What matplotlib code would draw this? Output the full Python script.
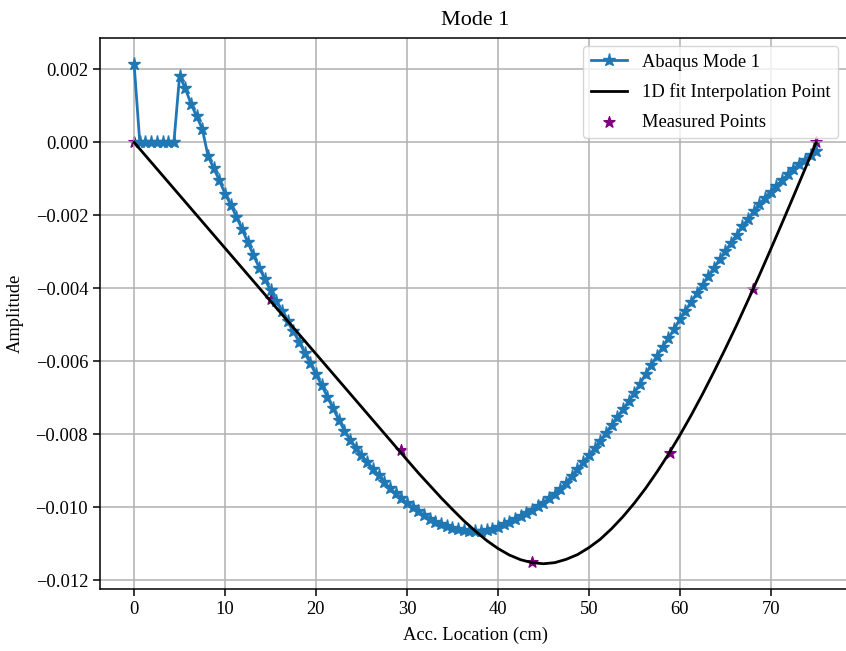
import matplotlib
matplotlib.use("Agg")
import matplotlib.pyplot as plt

plt.rcParams['font.family'] = ['Liberation Serif', 'DejaVu Serif']
plt.rcParams['font.size'] = 13.3
plt.rcParams['axes.unicode_minus'] = True

# Abaqus Mode 1 (node positions along beam, cm) and amplitude
abaqus_x = [0.0, 0.625, 1.25, 1.875, 2.5, 3.125, 3.75, 4.375, 5.0, 5.625,
            6.25, 6.875, 7.5, 8.125, 8.75, 9.375, 10.0, 10.625, 11.25, 11.875,
            12.5, 13.125, 13.75, 14.375, 15.0, 15.625, 16.25, 16.875, 17.5, 18.125,
            18.75, 19.375, 20.0, 20.625, 21.25, 21.875, 22.5, 23.125, 23.75, 24.375,
            25.0, 25.625, 26.25, 26.875, 27.5, 28.125, 28.75, 29.375, 30.0, 30.625,
            31.25, 31.875, 32.5, 33.125, 33.75, 34.375, 35.0, 35.625, 36.25, 36.875,
            37.5, 38.125, 38.75, 39.375, 40.0, 40.625, 41.25, 41.875, 42.5, 43.125,
            43.75, 44.375, 45.0, 45.625, 46.25, 46.875, 47.5, 48.125, 48.75, 49.375,
            50.0, 50.625, 51.25, 51.875, 52.5, 53.125, 53.75, 54.375, 55.0, 55.625,
            56.25, 56.875, 57.5, 58.125, 58.75, 59.375, 60.0, 60.625, 61.25, 61.875,
            62.5, 63.125, 63.75, 64.375, 65.0, 65.625, 66.25, 66.875, 67.5, 68.125,
            68.75, 69.375, 70.0, 70.625, 71.25, 71.875, 72.5, 73.125, 73.75, 74.375,
            75.0]
abaqus_y = [0.00215, 0.0, 0.0, 0.0, 0.0, 0.0, 0.0, 0.0, 0.00182, 0.00148,
            0.00106, 0.00071, 0.00037, -0.00037, -0.00071, -0.00104, -0.00141, -0.00171, -0.00204, -0.00238,
            -0.00274, -0.00309, -0.00343, -0.00375, -0.00406, -0.00435, -0.00463, -0.00491, -0.00518, -0.00546,
            -0.00576, -0.00606, -0.00636, -0.00666, -0.00697, -0.00729, -0.00760, -0.00790, -0.00815, -0.00837,
            -0.00858, -0.00876, -0.00894, -0.00912, -0.00930, -0.00948, -0.00962, -0.00976, -0.00988, -0.01000,
            -0.01011, -0.01022, -0.01031, -0.01040, -0.01046, -0.01052, -0.01057, -0.01060, -0.01063, -0.01066,
            -0.01066, -0.01066, -0.01063, -0.01059, -0.01054, -0.01047, -0.01040, -0.01033, -0.01025, -0.01016,
            -0.01007, -0.00998, -0.00988, -0.00976, -0.00963, -0.00950, -0.00933, -0.00914, -0.00896, -0.00877,
            -0.00858, -0.00839, -0.00818, -0.00797, -0.00775, -0.00753, -0.00732, -0.00710, -0.00687, -0.00661,
            -0.00635, -0.00610, -0.00585, -0.00560, -0.00537, -0.00512, -0.00485, -0.00461, -0.00437, -0.00413,
            -0.00390, -0.00367, -0.00344, -0.00321, -0.00298, -0.00276, -0.00253, -0.00230, -0.00210, -0.00189,
            -0.00170, -0.00152, -0.00135, -0.00119, -0.00104, -0.00088, -0.00074, -0.00059, -0.00047, -0.00036,
            -0.00025]

# 1D fit interpolation curve
fit_x = [0.0, 2.5, 5.0, 7.5, 10.0, 12.5, 15.0, 17.5, 20.0, 22.5,
         25.0, 27.5, 30.0, 31.25, 32.5, 33.75, 35.0, 36.25, 37.5, 38.75,
         40.0, 41.25, 42.5, 43.75, 45.0, 46.25, 47.5, 48.75, 50.0, 51.25,
         52.5, 53.75, 55.0, 56.25, 57.5, 58.75, 60.0, 61.25, 62.5, 63.75,
         65.0, 66.25, 67.5, 68.75, 70.0, 71.25, 72.5, 73.75, 75.0]
fit_y = [0.0, -0.000725, -0.00145, -0.002175, -0.0029, -0.003625, -0.00435, -0.005075, -0.0058, -0.006525,
         -0.00725, -0.007975, -0.0087, -0.00906, -0.0094, -0.00974, -0.01006, -0.01037, -0.01065, -0.01091,
         -0.01113, -0.01131, -0.01144, -0.01152, -0.01155, -0.01152, -0.01143, -0.01130, -0.01111, -0.01088,
         -0.01059, -0.01026, -0.00989, -0.00948, -0.00903, -0.00855, -0.00803, -0.00748, -0.00690, -0.00629,
         -0.00566, -0.00501, -0.00433, -0.00364, -0.00293, -0.00221, -0.00148, -0.00074, 0.0]

# Measured points
meas_x = [0.0, 15.0, 29.3, 43.75, 58.9, 68.0, 75.0]
meas_y = [0.0, -0.00430, -0.00844, -0.01150, -0.00851, -0.00401, 0.0]

fig = plt.figure(figsize=(8.46, 6.51), dpi=100)
ax = fig.add_axes([0.1182, 0.0948, 0.8869, 0.8468])

ax.plot(abaqus_x, abaqus_y, marker='*', color='#1f77b4', lw=2.0, ms=9.5,
        label='Abaqus Mode 1')
ax.plot(fit_x, fit_y, color='black', lw=2.0, label='1D fit Interpolation Point')
ax.scatter(meas_x, meas_y, marker='*', color='purple', s=70, label='Measured Points')

ax.set_xlim(-3.75, 78.75)
ax.set_ylim(-0.01225, 0.00286)
ax.set_xticks([0, 10, 20, 30, 40, 50, 60, 70])
ax.set_yticks([0.002, 0.0, -0.002, -0.004, -0.006, -0.008, -0.010, -0.012])
ax.grid(True, color='#b0b0b0', lw=1.1)
for s in ax.spines.values():
    s.set_linewidth(1.1)
ax.tick_params(length=5, width=1.1)

ax.set_title('Mode 1', pad=9.5)
ax.set_xlabel('Acc. Location (cm)', labelpad=6)
ax.set_ylabel('Amplitude', labelpad=8.5)
ax.legend(loc='upper right', labelspacing=0.68, borderaxespad=0.45,
          bbox_to_anchor=(0.995, 1.0))

fig.savefig('out.png', dpi=100)
